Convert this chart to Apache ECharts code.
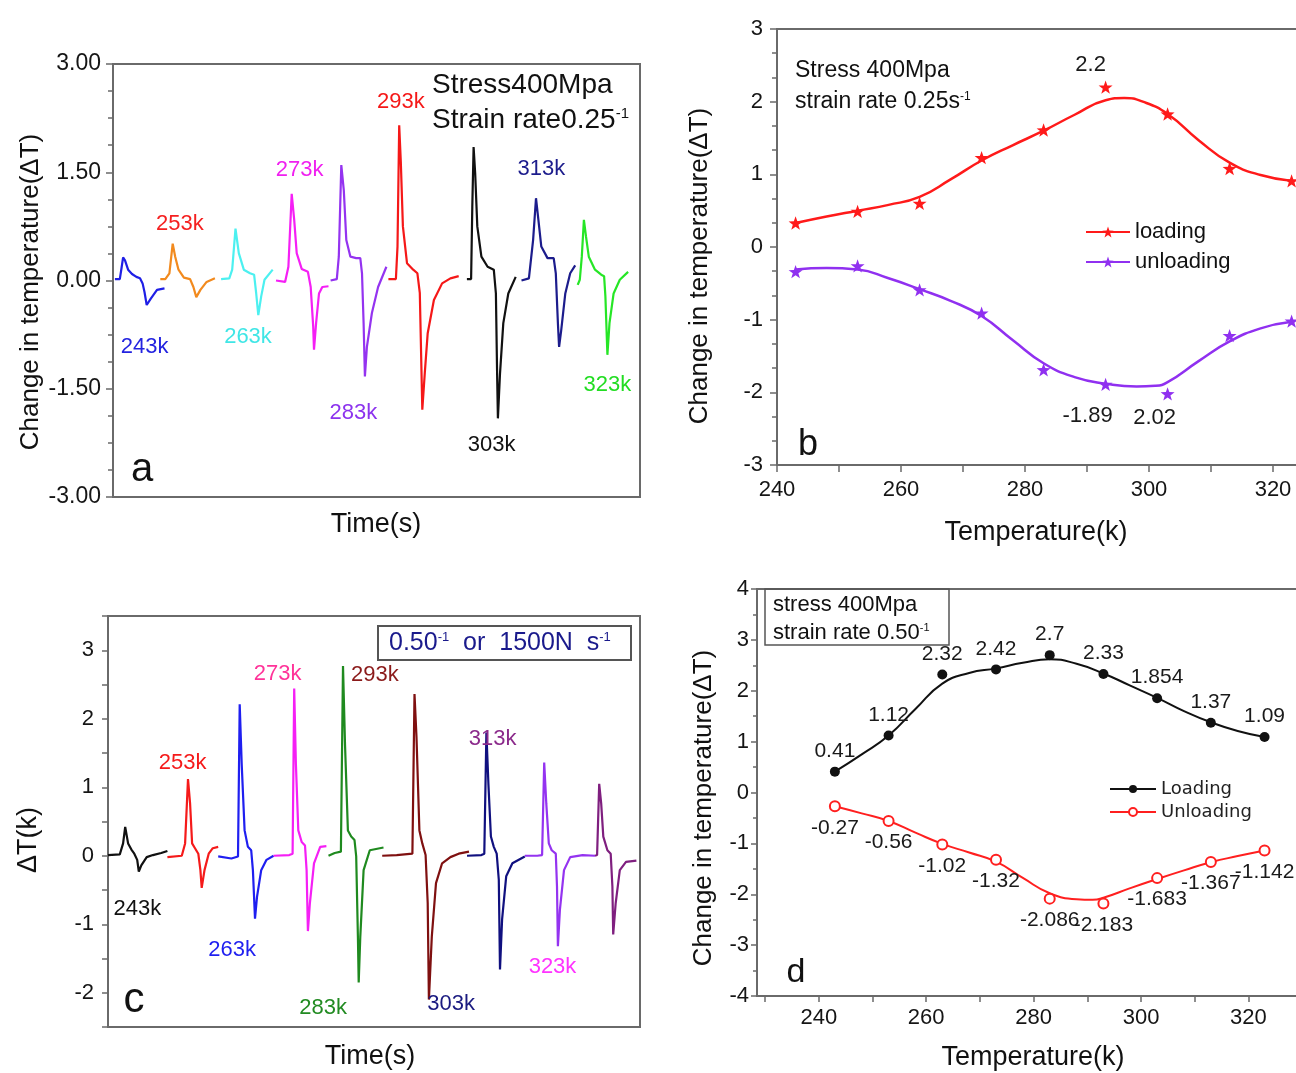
<!DOCTYPE html>
<html>
<head>
<meta charset="utf-8">
<script src="https://cdn.jsdelivr.net/npm/echarts@6/dist/echarts.min.js"></script>
<style>
  html, body { margin: 0; padding: 0; background: #fff; }
  #chart { width: 1296px; height: 1073px; }
</style>
</head>
<body>
<div id="chart"></div>
<script>
// ---------- data ----------
const tempLabels = ['243k', '253k', '263k', '273k', '283k', '293k', '303k', '313k', '323k'];

// (a) temperature change vs time, 400 MPa, strain rate 0.25 s^-1  [time, dT]
const aTrace243 = [[1.9,0.02],[6.8,0.02],[8.5,0.17],[10.1,0.32],[12,0.28],[15.1,0.15],[19,0.09],[23.4,0.05],[27,0.03],[29.6,-0.04],[31.5,-0.16],[33.7,-0.34],[37.8,-0.25],[44,-0.13],[51.5,-0.11]];
const aTrace253 = [[47.3,0.02],[52.3,0.02],[56.4,0.1],[59.7,0.51],[62.2,0.33],[65.5,0.15],[70.9,0.04],[77.1,0.02],[80.4,-0.09],[83.3,-0.23],[87.4,-0.13],[93.6,-0.02],[101.9,0.03]];
const aTrace263 = [[108.1,0.02],[116.3,0.03],[119.2,0.15],[122.5,0.72],[125.8,0.38],[130.8,0.15],[137,0.1],[141.1,0.08],[143.2,-0.18],[145.3,-0.48],[148.2,-0.22],[151.5,0.01],[159.7,0.15]];
const aTrace273 = [[163,0],[172.1,-0.02],[175.4,0.19],[178.7,1.2],[181.2,0.84],[183.7,0.38],[188.7,0.16],[194.9,0.12],[197.7,-0.09],[200.2,-0.64],[201,-0.96],[203.1,-0.59],[206,-0.18],[209.3,-0.09],[215.5,-0.08]];
const aTrace283 = [[217.6,0],[223.8,0.02],[225.8,0.33],[228.3,1.6],[230.8,1.25],[233.3,0.56],[237.4,0.33],[243.2,0.31],[247.3,0.31],[249,0.1],[250.6,-0.59],[251.9,-1.33],[253.9,-0.92],[258.9,-0.45],[265.1,-0.09],[273.4,0.19]];
const aTrace293 = [[275.4,0.02],[282.9,0.02],[284.5,0.47],[286.2,2.15],[287.8,1.65],[289.9,0.75],[294,0.24],[300.2,0.15],[304.4,0.1],[306.8,-0.17],[309.3,-1.79],[311.8,-1.28],[314.7,-0.73],[320.9,-0.27],[329.1,-0.04],[337.4,0.03],[345.7,0.06]];
const aTrace303 = [[353.9,0.02],[358.1,0.02],[359.3,1.02],[360.6,1.85],[362.2,1.48],[364.3,0.75],[368.4,0.33],[374.6,0.19],[380.8,0.15],[382.9,-0.18],[384.1,-1.29],[384.9,-1.91],[387,-1.29],[390.3,-0.59],[395.3,-0.18],[402.7,0.05]];
const aTrace313 = [[408.5,0],[415.9,0.03],[420.1,0.56],[423,1.14],[425.4,0.84],[428.3,0.47],[434.5,0.31],[440.7,0.31],[442.8,0.1],[444.9,-0.59],[446.1,-0.92],[448.2,-0.69],[452.3,-0.18],[457.2,0.1],[462.2,0.21]];
const aTrace323 = [[464.7,-0.06],[466.8,0.01],[468.8,0.33],[470.9,0.84],[473,0.61],[475.8,0.33],[482,0.15],[488.2,0.08],[491.1,0.06],[492.4,-0.22],[494.4,-1.03],[496.5,-0.59],[500.6,-0.18],[506.8,0.01],[515.1,0.12]];

// (b) peak dT vs temperature, strain rate 0.25 s^-1
const bTemps = [243, 253, 263, 273, 283, 293, 303, 313, 323];
const bLoading = [0.33, 0.49, 0.6, 1.23, 1.61, 2.2, 1.83, 1.08, 0.91];
const bUnloading = [-0.34, -0.26, -0.59, -0.91, -1.69, -1.89, -2.02, -1.22, -1.02];
const bLoadingFit = [[243,0.33],[248,0.42],[253,0.5],[258,0.58],[263,0.69],[268,0.93],[273,1.19],[278,1.4],[283,1.6],[288,1.82],[293,2.02],[296,2.05],[299,2.0],[303,1.83],[308,1.47],[313,1.16],[318,0.99],[323,0.91]];
const bUnloadingFit = [[243,-0.31],[248,-0.29],[253,-0.31],[258,-0.43],[263,-0.58],[268,-0.74],[273,-0.95],[278,-1.28],[283,-1.6],[288,-1.79],[293,-1.88],[298,-1.92],[301,-1.91],[303,-1.86],[308,-1.57],[313,-1.3],[318,-1.12],[323,-1.03]];
const bValueText = { 'loading-5': '2.2', 'unloading-5': '-1.89', 'unloading-6': '2.02' };

// (c) temperature change vs time, strain rate 0.50 s^-1  [time, dT]
const cTrace243 = [[0,0.01],[11.8,0.02],[15.1,0.18],[17.2,0.42],[20.1,0.18],[23.4,0.09],[26.3,0.03],[29.2,-0.06],[30.8,-0.23],[33.3,-0.14],[38.7,-0.02],[44.9,0.01],[53.2,0.04],[59.4,0.07]];
const cTrace253 = [[59.4,-0.02],[73.8,0],[77.1,0.18],[80,1.12],[82.1,0.76],[84.1,0.18],[87,0.11],[90.3,0.03],[92.4,-0.21],[93.7,-0.47],[96.5,-0.21],[100.7,0.03],[104.8,0.11],[110.2,0.13]];
const cTrace263 = [[110.2,-0.01],[123.4,-0.04],[130,-0.01],[131.7,2.21],[133.7,1.34],[136.6,0.37],[139.9,0.13],[143.2,0.08],[144.9,-0.21],[147,-0.92],[149,-0.6],[153.2,-0.21],[158.5,-0.06],[165.6,0]];
const cTrace273 = [[165.6,0],[181.3,0.01],[184.6,0.03],[186.2,2.44],[187.9,1.34],[190.3,0.37],[193.7,0.2],[197,0.15],[198.6,-0.21],[199.9,-1.1],[201.9,-0.69],[206,-0.11],[212.2,0.13],[218.4,0.14]];
const cTrace283 = [[220.5,0],[226.7,0.04],[232.9,0.06],[235,2.77],[237,1.63],[239.9,0.37],[243.2,0.28],[246.5,0.23],[248.2,-0.01],[249.9,-1.18],[250.7,-1.85],[252.3,-1.18],[255.6,-0.21],[261.8,0.08],[275.5,0.12]];
const cTrace293 = [[274.2,0],[288.7,0.01],[304.4,0.03],[306.5,2.36],[308.5,1.73],[311.4,0.37],[314.3,0.18],[317.6,0.01],[319.7,-0.69],[320.9,-2.1],[323.8,-1.18],[328,-0.4],[334.1,-0.11],[342.4,-0.02],[350.7,0.03],[361,0.06]];
const cTrace303 = [[359,0],[373.4,0.01],[376.3,0.03],[378.4,1.8],[380.4,1.05],[382.9,0.28],[385.8,0.13],[388.7,0.03],[390.8,-0.35],[392,-1.66],[394.1,-0.93],[398.2,-0.3],[404.4,-0.11],[416.8,-0.01]];
const cTrace313 = [[416.8,0],[429.2,0],[434.1,0.01],[436.2,1.36],[438.3,0.76],[440.8,0.18],[443.7,0.08],[447.8,0.03],[449,-0.45],[449.9,-1.32],[451.9,-0.79],[456,-0.21],[462.2,-0.02],[474.6,0.01],[487,0]];
const cTrace323 = [[487,0],[489.1,0.01],[491.2,1.05],[493.2,0.76],[495.3,0.28],[499.4,0.08],[502.7,0.03],[504.4,-0.45],[505.2,-1.15],[507.7,-0.69],[511.8,-0.21],[518,-0.09],[528.4,-0.07]];

// (d) peak dT vs temperature, strain rate 0.50 s^-1
const dTemps = [243, 253, 263, 273, 283, 293, 303, 313, 323];
const dLoading = [0.41, 1.12, 2.32, 2.42, 2.7, 2.33, 1.854, 1.37, 1.09];
const dUnloading = [-0.27, -0.56, -1.02, -1.32, -2.086, -2.183, -1.683, -1.367, -1.142];
const dLoadingFit = [[243,0.41],[248,0.75],[253,1.12],[258,1.64],[263,2.14],[268,2.35],[273,2.44],[278,2.55],[283,2.62],[288,2.53],[293,2.34],[298,2.1],[303,1.86],[308,1.6],[313,1.38],[318,1.21],[323,1.09]];
const dUnloadingFit = [[243,-0.27],[248,-0.41],[253,-0.56],[258,-0.79],[263,-1.01],[268,-1.18],[273,-1.36],[278,-1.68],[283,-1.98],[288,-2.1],[291,-2.11],[293,-2.07],[298,-1.88],[303,-1.7],[308,-1.53],[313,-1.37],[318,-1.25],[323,-1.14]];

// ---------- styling / layout ----------
const FONT = 'Liberation Sans, Arial, sans-serif';
const AXIS_GRAY = '#6a6a6a';
const aColors = ['#1f1fe6', '#f28a1e', '#4cf0f0', '#f51ff5', '#9433f0', '#f51818', '#111111', '#1c1c8c', '#26e626'];
const aLabelColors = ['#2323e0', '#f52020', '#40e6e6', '#f020f0', '#8c33ee', '#f51818', '#111111', '#1c1c8c', '#22dd22'];
const cColors = ['#111111', '#f51a1a', '#1f1ff0', '#f51ff5', '#1f8a1f', '#7f1010', '#10107f', '#9433f0', '#7f1f7f'];
const cLabelColors = ['#111111', '#f51a1a', '#1f1ff0', '#ff3399', '#228b22', '#8b1a1a', '#1a1a80', '#8b2a8b', '#ff33ff'];
// anchor points (time, dT) of the temperature tags
const aLabelAt = [[31.6,-0.92],[66.8,0.79],[135,-0.78],[186.6,1.53],[240.3,-1.84],[287.8,2.48],[378.7,-2.28],[428.3,1.55],[494.4,-1.45]];
const cLabelAt = [[29.4,-0.78],[74.6,1.36],[124.2,-1.37],[169.7,2.65],[215.1,-2.22],[266.8,2.64],[343.2,-2.16],[384.6,1.70],[444.5,-1.63]];

const STAR = 'path://M100 0L123.5 67.6L195.1 69.1L138 112.4L158.8 180.9L100 140L41.2 180.9L62 112.4L4.9 69.1L76.5 67.6Z';

const axisLine = { show: true, onZero: false, lineStyle: { color: AXIS_GRAY, width: 2 } };
const tickLine = { color: AXIS_GRAY, width: 1.5 };
const labelBase = { color: '#151515', fontSize: 22, fontFamily: FONT };
const gridBase = { show: true, borderColor: AXIS_GRAY, borderWidth: 2, backgroundColor: 'transparent', outerBoundsMode: 'none' };

function timeAxis(gi, max) {
  return { type: 'value', gridIndex: gi, min: 0, max: max, axisLine: axisLine,
    axisTick: { show: false }, axisLabel: { show: false }, splitLine: { show: false } };
}

// ---------- series ----------
const series = [];
const aTraces = [aTrace243, aTrace253, aTrace263, aTrace273, aTrace283, aTrace293, aTrace303, aTrace313, aTrace323];
const cTraces = [cTrace243, cTrace253, cTrace263, cTrace273, cTrace283, cTrace293, cTrace303, cTrace313, cTrace323];

aTraces.forEach((d, i) => series.push({
  type: 'line', name: 'a ' + tempLabels[i], xAxisIndex: 0, yAxisIndex: 0, data: d,
  symbol: 'none', lineStyle: { color: aColors[i], width: 2.2 }, silent: true
}));
cTraces.forEach((d, i) => series.push({
  type: 'line', name: 'c ' + tempLabels[i], xAxisIndex: 2, yAxisIndex: 2, data: d,
  symbol: 'none', lineStyle: { color: cColors[i], width: 2.2 }, silent: true
}));

// temperature tags next to each trace
function tagSeries(xi, anchors, colors) {
  return {
    type: 'scatter', xAxisIndex: xi, yAxisIndex: xi, symbolSize: 1, silent: true,
    itemStyle: { color: 'rgba(0,0,0,0)', opacity: 1 }, z: 5,
    data: anchors.map((p, i) => ({ name: tempLabels[i], value: p, label: { color: colors[i] } })),
    label: { show: true, position: 'inside', formatter: '{b}', fontSize: 22, fontFamily: FONT }
  };
}
series.push(tagSeries(0, aLabelAt, aLabelColors));
series.push(tagSeries(2, cLabelAt, cLabelColors));

// (b)
const bRed = '#ff1a1a', bPurple = '#9030f0';
series.push({ type: 'line', name: 'loading', xAxisIndex: 1, yAxisIndex: 1, data: bLoadingFit, smooth: 0.5,
  showSymbol: false, symbol: STAR, symbolKeepAspect: true, lineStyle: { color: bRed, width: 2.5 }, itemStyle: { color: bRed } });
series.push({ type: 'line', name: 'unloading', xAxisIndex: 1, yAxisIndex: 1, data: bUnloadingFit, smooth: 0.5,
  showSymbol: false, symbol: STAR, symbolKeepAspect: true, lineStyle: { color: bPurple, width: 2.5 }, itemStyle: { color: bPurple } });

const bTagPlace = {
  'loading-5': { position: 'top', offset: [-15, 0] },
  'unloading-5': { position: 'bottom', offset: [-18, 9] },
  'unloading-6': { position: 'bottom', offset: [-13, 1] }
};
function bPoints(key, vals, color) {
  return {
    type: 'scatter', name: key + ' points', xAxisIndex: 1, yAxisIndex: 1, symbol: STAR, symbolSize: 14,
    symbolKeepAspect: true, itemStyle: { color: color, opacity: 1 }, z: 4,
    data: bTemps.map((t, i) => {
      const k = key + '-' + i;
      const item = { value: [t, vals[i]] };
      if (bValueText[k]) {
        item.label = Object.assign({ show: true, formatter: bValueText[k], fontSize: 22, color: '#1a1a1a',
          fontFamily: FONT, distance: 5 }, bTagPlace[k]);
      }
      return item;
    })
  };
}
series.push(bPoints('loading', bLoading, bRed));
series.push(bPoints('unloading', bUnloading, bPurple));

// (d)
const dRed = '#ff1f1f';
series.push({ type: 'line', name: 'Loading', xAxisIndex: 3, yAxisIndex: 3, data: dLoadingFit, smooth: 0.5,
  showSymbol: false, symbol: 'circle', lineStyle: { color: '#111', width: 2 }, itemStyle: { color: '#111' } });
series.push({ type: 'line', name: 'Unloading', xAxisIndex: 3, yAxisIndex: 3, data: dUnloadingFit, smooth: 0.5,
  showSymbol: false, symbol: 'emptyCircle', lineStyle: { color: dRed, width: 2 }, itemStyle: { color: dRed } });
series.push({ type: 'scatter', name: 'Loading points', xAxisIndex: 3, yAxisIndex: 3, symbol: 'circle', symbolSize: 10,
  itemStyle: { color: '#111', opacity: 1 }, z: 4,
  data: dTemps.map((t, i) => [t, dLoading[i]]),
  label: { show: true, position: 'top', distance: 5, fontSize: 21, color: '#1a1a1a', fontFamily: FONT,
    formatter: p => String(p.value[1]) } });
series.push({ type: 'scatter', name: 'Unloading points', xAxisIndex: 3, yAxisIndex: 3, symbol: 'emptyCircle', symbolSize: 10,
  itemStyle: { color: dRed, borderWidth: 1.5, opacity: 1 }, z: 4,
  data: dTemps.map((t, i) => [t, dUnloading[i]]),
  label: { show: true, position: 'bottom', distance: 5, fontSize: 21, color: '#1a1a1a', fontFamily: FONT,
    formatter: p => String(p.value[1]) } });

// ---------- text elements ----------
function txt(x, y, text, size, extra) {
  const el = { type: 'text', x: x, y: y, silent: true, z: 10,
    style: { text: text, fontSize: size, fontFamily: FONT, fill: '#111', align: 'center', verticalAlign: 'middle' } };
  if (extra && extra.rotation) el.rotation = extra.rotation;
  if (extra && extra.style) Object.assign(el.style, extra.style);
  return el;
}
function supText(x, y, text, size, color) {
  return txt(x, y, text, size, { style: { align: 'left', rich: {
    n: { fontSize: size, fontFamily: FONT, fill: color },
    s: { fontSize: Math.round(size * 0.52), fontFamily: FONT, fill: color, verticalAlign: 'top' }
  } } });
}
const UP = { rotation: Math.PI / 2 };

const graphic = [
  // (a)
  txt(31, 292, 'Change in temperature(ΔT)', 26, UP),
  txt(376, 525, 'Time(s)', 27),
  txt(432, 85, 'Stress400Mpa', 28, { style: { align: 'left' } }),
  supText(432, 120, '{n|Strain rate0.25}{s|-1}', 28, '#111'),
  txt(142, 470, 'a', 40),
  // (b)
  txt(700, 266, 'Change in temperature(ΔT)', 26, UP),
  txt(1036, 533, 'Temperature(k)', 27),
  txt(795, 71, 'Stress 400Mpa', 23, { style: { align: 'left' } }),
  supText(795, 102, '{n|strain rate 0.25s}{s|-1}', 23, '#111'),
  txt(808, 445, 'b', 36),
  // (c)
  txt(29, 840, 'ΔT(k)', 27, UP),
  txt(370, 1057, 'Time(s)', 27),
  { type: 'rect', silent: true, z: 9, shape: { x: 378, y: 626, width: 253, height: 34 },
    style: { fill: '#fff', stroke: '#555', lineWidth: 2 } },
  supText(389, 643, '{n|0.50}{s|-1}{n|  or  1500N  s}{s|-1}', 25, '#1a1a8c'),
  txt(134, 1000, 'c', 42),
  // (d)
  txt(704, 808, 'Change in temperature(ΔT)', 26, UP),
  txt(1033, 1058, 'Temperature(k)', 27),
  { type: 'rect', silent: true, z: 9, shape: { x: 765, y: 589, width: 184, height: 56 },
    style: { fill: 'none', stroke: '#555', lineWidth: 1.5 } },
  txt(773, 605, 'stress 400Mpa', 22, { style: { align: 'left' } }),
  supText(773, 633, '{n|strain rate 0.50}{s|-1}', 22, '#111'),
  txt(796, 973, 'd', 34)
];

// ---------- option ----------
const option = {
  animation: false,
  backgroundColor: '#fff',
  textStyle: { fontFamily: FONT },
  grid: [
    Object.assign({ left: 113, top: 64, width: 527, height: 433 }, gridBase),
    Object.assign({ left: 777, top: 29, width: 527, height: 436 }, gridBase),
    Object.assign({ left: 108, top: 616, width: 532, height: 411 }, gridBase),
    Object.assign({ left: 757, top: 589, width: 572, height: 407 }, gridBase)
  ],
  xAxis: [
    timeAxis(0, 527),
    { type: 'value', gridIndex: 1, min: 240, max: 325, interval: 20, axisLine: axisLine,
      axisTick: { show: true, length: 7, lineStyle: tickLine },
      minorTick: { show: true, splitNumber: 2, length: 7, lineStyle: tickLine },
      axisLabel: Object.assign({ margin: 14, showMaxLabel: false }, labelBase), splitLine: { show: false } },
    timeAxis(2, 532),
    { type: 'value', gridIndex: 3, min: 228.5, max: 335, axisLine: axisLine,
      axisTick: { show: true, length: 6, lineStyle: tickLine, customValues: [230, 240, 250, 260, 270, 280, 290, 300, 310, 320, 330] },
      axisLabel: Object.assign({ margin: 11, customValues: [240, 260, 280, 300, 320] }, labelBase),
      splitLine: { show: false } }
  ],
  yAxis: [
    { type: 'value', gridIndex: 0, min: -3, max: 3, interval: 1.5, axisLine: axisLine,
      axisTick: { show: true, length: 7, lineStyle: tickLine },
      minorTick: { show: true, splitNumber: 4, length: 5, lineStyle: tickLine },
      axisLabel: Object.assign({ margin: 12, formatter: v => v.toFixed(2) }, labelBase, { fontSize: 23 }), splitLine: { show: false } },
    { type: 'value', gridIndex: 1, min: -3, max: 3, interval: 1, axisLine: axisLine,
      axisTick: { show: true, length: 7, lineStyle: tickLine },
      minorTick: { show: true, splitNumber: 3, length: 5, lineStyle: tickLine },
      axisLabel: Object.assign({ margin: 14 }, labelBase), splitLine: { show: false } },
    { type: 'value', gridIndex: 2, min: -2.5, max: 3.5, interval: 0.5, axisLine: axisLine,
      axisTick: { show: true, length: 6, lineStyle: tickLine },
      axisLabel: Object.assign({ margin: 14,
        formatter: v => (Math.abs(v - Math.round(v)) < 1e-6 ? String(Math.round(v)) : '') }, labelBase),
      splitLine: { show: false } },
    { type: 'value', gridIndex: 3, min: -4, max: 4, interval: 1, axisLine: axisLine,
      axisTick: { show: true, length: 6, lineStyle: tickLine },
      minorTick: { show: true, splitNumber: 2, length: 4, lineStyle: tickLine },
      axisLabel: Object.assign({ margin: 8 }, labelBase), splitLine: { show: false } }
  ],
  legend: [
    { data: ['loading', 'unloading'], selectedMode: false, orient: 'vertical', left: 1085, top: 221, padding: 0,
      itemWidth: 44, itemHeight: 14, itemGap: 8, textStyle: { fontSize: 22, color: '#111', fontFamily: FONT } },
    { data: ['Loading', 'Unloading'], selectedMode: false, orient: 'vertical', left: 1109, top: 780, padding: 0,
      itemWidth: 46, itemHeight: 10, itemGap: 5, textStyle: { fontSize: 18, color: '#222', fontFamily: 'DejaVu Sans' } }
  ],
  series: series,
  graphic: graphic
};

const chart = echarts.init(document.getElementById('chart'), null, { renderer: 'canvas' });
chart.setOption(option);
</script>
</body>
</html>
